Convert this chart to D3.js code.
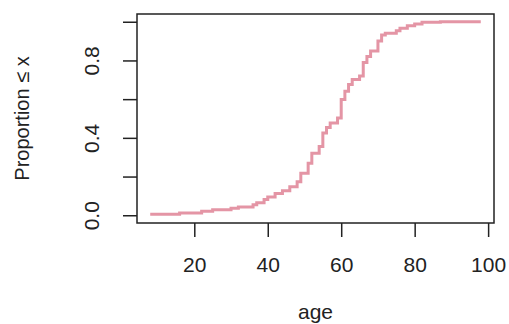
<!DOCTYPE html>
<html>
<head>
<meta charset="utf-8">
<script src="https://cdn.jsdelivr.net/npm/d3@7"></script>
<style>
    body { margin: 0; background: #fff; }
    svg text { font-family: "Liberation Sans", Arial, sans-serif; fill: #222; }
</style>
</head>
<body>
<div id="chart"></div>
<script>
// ages where the empirical CDF steps up, and the proportion after each step
const ages = [8, 16, 22, 25, 30, 32, 36, 37, 39, 40, 42, 44, 46, 48, 49, 51, 52, 54, 55, 56,
    57, 59, 60, 61, 62, 63, 65, 66, 67, 68, 70, 71, 72, 75, 76, 78, 80, 82, 87];
const proportions = [0.005, 0.012, 0.021, 0.029, 0.036, 0.043, 0.054, 0.064, 0.081, 0.095,
    0.113, 0.127, 0.147, 0.173, 0.217, 0.269, 0.321, 0.355, 0.425, 0.454,
    0.477, 0.503, 0.598, 0.641, 0.676, 0.702, 0.719, 0.789, 0.820, 0.849,
    0.901, 0.931, 0.940, 0.953, 0.966, 0.979, 0.988, 0.997, 1.0];
const lastAge = 98;

const xTicks = [20, 40, 60, 80, 100];
const yTicks = [0, 0.2, 0.4, 0.6, 0.8, 1.0];
const yLabels = ["0.0", "", "0.4", "", "0.8", ""];

let margin = {top: 14, right: 15, bottom: 101, left: 137};
let width = 509 - margin.left - margin.right;
let height = 324 - margin.top - margin.bottom;

let svg = d3.select("#chart").append("svg")
    .attr("width", 509)
    .attr("height", 324)
    .append("g")
    .attr("transform", "translate(" + margin.left + "," + margin.top + ")");

// R style 4% padding on both scales
let x = d3.scaleLinear()
    .domain([4.4, 101.6])
    .range([0, width]);

let y = d3.scaleLinear()
    .domain([-0.04, 1.04])
    .range([height, 0]);

// step line
let points = ages.map((a, i) => [a, proportions[i]]);
points.push([lastAge, proportions[proportions.length - 1]]);

let line = d3.line()
    .x(d => x(d[0]))
    .y(d => y(d[1]))
    .curve(d3.curveStepAfter);

svg.append("path")
    .datum(points)
    .attr("d", line)
    .attr("fill", "none")
    .attr("stroke", "#E495A5")
    .attr("stroke-width", 3);

// box
svg.append("rect")
    .attr("width", width)
    .attr("height", height)
    .attr("fill", "none")
    .attr("stroke", "#222")
    .attr("stroke-width", 1.5);

// axes
let xAxis = d3.axisBottom(x)
    .tickValues(xTicks)
    .tickSize(14)
    .tickPadding(20);

let gx = svg.append("g")
    .attr("transform", "translate(0," + height + ")")
    .call(xAxis);
gx.select(".domain").remove();
gx.selectAll(".tick line").attr("stroke", "#222").attr("stroke-width", 1.5);
gx.selectAll(".tick text").style("font-size", "21px").attr("fill", "#222");

let yAxis = d3.axisLeft(y)
    .tickValues(yTicks)
    .tickSize(14)
    .tickFormat((d, i) => yLabels[i]);

let gy = svg.append("g").call(yAxis);
gy.select(".domain").remove();
gy.selectAll(".tick line").attr("stroke", "#222").attr("stroke-width", 1.5);
gy.selectAll(".tick text")
    .style("font-size", "21px")
    .attr("fill", "#222")
    .attr("x", 0)
    .attr("dy", 0)
    .attr("text-anchor", "middle")
    .attr("transform", "translate(-38,0) rotate(-90)");

// axis titles
svg.append("text")
    .attr("text-anchor", "middle")
    .attr("x", width / 2)
    .attr("y", height + 96)
    .style("font-size", "21px")
    .text("age");

svg.append("text")
    .attr("text-anchor", "middle")
    .attr("transform", "translate(" + (-108) + "," + (height / 2) + ") rotate(-90)")
    .style("font-size", "20px")
    .text("Proportion ≤ x");
</script>
</body>
</html>
